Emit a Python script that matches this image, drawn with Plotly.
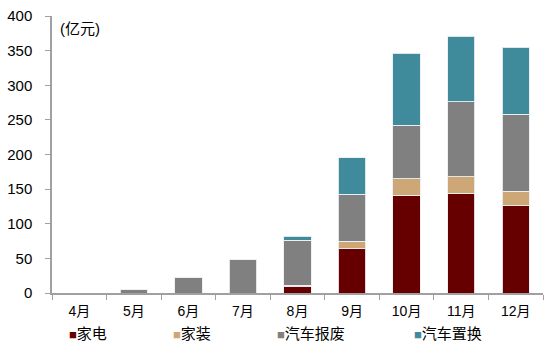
import plotly.graph_objects as go

months = ["4月", "5月", "6月", "7月", "8月", "9月", "10月", "11月", "12月"]
appliance = [0, 0, 0, 0, 9, 64, 141, 144, 126]        # 家电
decor = [0, 0, 0, 0, 2, 11, 24, 24, 21]                 # 家装
scrap = [0, 4.5, 23, 48, 65, 67.5, 77, 108, 111]        # 汽车报废
replace = [0, 0, 0, 0, 6, 53, 104, 95, 97]              # 汽车置换

series_names = ["家电", "家装", "汽车报废", "汽车置换"]
series_values = [appliance, decor, scrap, replace]
series_colors = ["#660000", "#CDA776", "#808080", "#3F8A9B"]

yticks = [0, 50, 100, 150, 200, 250, 300, 350, 400]

FONT = "Liberation Sans, Arial, Noto Sans CJK SC, sans-serif"

fig = go.Figure()
for name, vals, col in zip(series_names, series_values, series_colors):
    fig.add_trace(go.Bar(
        x=months, y=vals, name=name,
        marker=dict(color=col, line=dict(color="rgba(235,240,245,0.9)", width=1)),
        showlegend=False,
    ))

# custom compact legend (square glyph + label)
legend_x = [0.030, 0.243, 0.455, 0.734]
for name, col, lx in zip(series_names, series_colors, legend_x):
    fig.add_annotation(
        x=lx, y=-0.146, xref="paper", yref="paper",
        xanchor="left", yanchor="middle", showarrow=False,
        text=f"<span style='color:{col};font-size:13px'>■</span>{name}",
        font=dict(family=FONT, size=15, color="#000000"),
    )

fig.add_annotation(
    x=0.012, y=0.955, xref="paper", yref="paper",
    xanchor="left", yanchor="middle", showarrow=False,
    text="(亿元)", font=dict(family=FONT, size=15, color="#000000"),
)

fig.update_layout(
    barmode="stack",
    bargap=0.5,
    width=550, height=353,
    margin=dict(l=52, r=7, t=13, b=60),
    paper_bgcolor="white", plot_bgcolor="white",
    font=dict(family=FONT, size=14, color="#000000"),
)
fig.update_xaxes(
    type="category",
    showline=True, linecolor="#A0A0A0", linewidth=1.5,
    ticks="outside", tickson="boundaries", ticklen=5, tickcolor="#A0A0A0",
    tickfont=dict(family=FONT, size=14, color="#000000"),
    ticklabelstandoff=4,
    showgrid=False, zeroline=False,
)
fig.update_yaxes(
    range=[0, 400], tickvals=yticks,
    showline=True, linecolor="#A0A0A0", linewidth=1.5,
    ticks="outside", ticklen=5, tickcolor="#A0A0A0",
    tickfont=dict(family=FONT, size=15, color="#000000"),
    ticklabelstandoff=10,
    showgrid=False, zeroline=False,
)

fig.write_html("out.html")
